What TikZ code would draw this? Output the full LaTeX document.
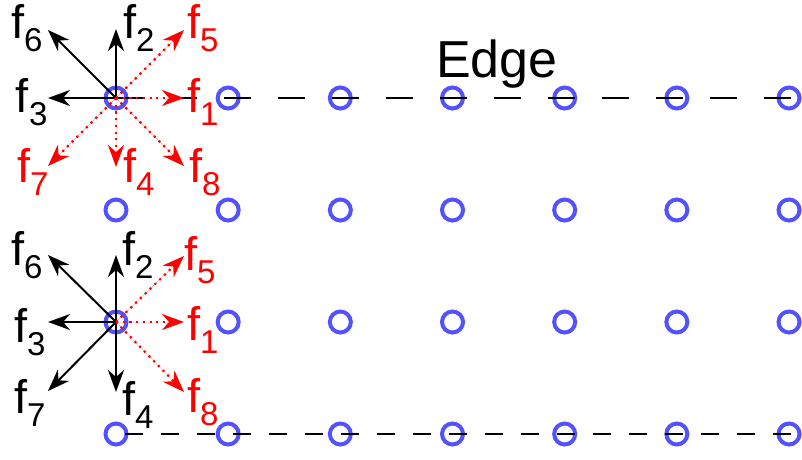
\documentclass[tikz,border=0pt]{standalone}
\usepackage{fontspec}
\setmainfont{Liberation Sans}
\usetikzlibrary{arrows.meta}
\definecolor{ptblue}{RGB}{82,82,255}
\newcommand\flab[1]{\fontsize{47}{47}\selectfont f\raisebox{-13pt}{\fontsize{33}{33}\selectfont #1}}
\tikzset{
  pt/.style={circle, draw=ptblue, line width=4pt, minimum size=21pt, inner sep=0pt},
  tipst/.style={-{Stealth[length=22pt,width=16pt,inset=7pt]}},
  fblack/.style={tipst, draw=black, line width=2pt},
  fdot/.style={tipst, draw=red, fill=red, line width=2.2pt, dash pattern=on 2.2pt off 4.5pt},
  lab/.style={anchor=base west, inner sep=0pt, outer sep=0pt},
  edgeline/.style={draw=black, line width=2.5pt},
}
\begin{document}
\begin{tikzpicture}[x=1pt,y=-1pt]
\useasboundingbox (0,0) rectangle (802,459);
% grid of points
\foreach \r/\y in {0/98,1/210,2/322,3/434}{
  \foreach \c in {0,...,6}{
    \node[pt] (c-\r-\c) at ({116+112.17*\c},\y) {};
  }
}
% edge lines
\coordinate (etop) at (802,98);
\coordinate (ebot) at (802,434);
\draw[edgeline, dash pattern=on 27pt off 27pt] (c-0-0.center) -- (etop);
\draw[edgeline, dash pattern=on 18pt off 18pt, dash phase=27pt] (c-3-0.center) -- (ebot);
\node[lab, font=\fontsize{52}{52}\selectfont] (edge) at (436,77) {Edge};
% top cluster tips
\coordinate (ta6) at (48,30);
\coordinate (ta2) at (116,29);
\coordinate (ta5) at (184,30);
\coordinate (ta3) at (48,98);
\coordinate (ta1) at (184,98);
\coordinate (ta7) at (48,166);
\coordinate (ta4) at (116,167);
\coordinate (ta8) at (184,166);
\draw[fblack] (c-0-0.center) -- (ta6);
\draw[fblack] (c-0-0.center) -- (ta2);
\draw[fblack] (c-0-0.center) -- (ta3);
\draw[fdot] (c-0-0.center) -- (ta5);
\draw[fdot] (c-0-0.center) -- (ta1);
\draw[fdot] (c-0-0.center) -- (ta7);
\draw[fdot] (c-0-0.center) -- (ta4);
\draw[fdot] (c-0-0.center) -- (ta8);
% bottom cluster tips
\coordinate (tb6) at (48,255);
\coordinate (tb2) at (116,255);
\coordinate (tb5) at (184,256);
\coordinate (tb3) at (48,322);
\coordinate (tb1) at (184,322);
\coordinate (tb7) at (48,391);
\coordinate (tb4) at (116,392);
\coordinate (tb8) at (184,392);
\draw[fblack] (c-2-0.center) -- (tb6);
\draw[fblack] (c-2-0.center) -- (tb2);
\draw[fblack] (c-2-0.center) -- (tb3);
\draw[fblack] (c-2-0.center) -- (tb7);
\draw[fblack] (c-2-0.center) -- (tb4);
\draw[fdot] (c-2-0.center) -- (tb5);
\draw[fdot] (c-2-0.center) -- (tb1);
\draw[fdot] (c-2-0.center) -- (tb8);
% top labels
\node[lab] (la6) at (11,38) {\flab{6}};
\node[lab] (la2) at (123,38) {\flab{2}};
\node[lab, text=red] (la5) at (187,38) {\flab{5}};
\node[lab] (la3) at (16,112) {\flab{3}};
\node[lab, text=red] (la1) at (187,112) {\flab{1}};
\node[lab, text=red] (la7) at (17,182) {\flab{7}};
\node[lab, text=red] (la4) at (123,182) {\flab{4}};
\node[lab, text=red] (la8) at (189,182) {\flab{8}};
% bottom labels
\node[lab] (lb6) at (11,265) {\flab{6}};
\node[lab] (lb2) at (122,265) {\flab{2}};
\node[lab, text=red] (lb5) at (184,270) {\flab{5}};
\node[lab] (lb3) at (14,342) {\flab{3}};
\node[lab, text=red] (lb1) at (187,340) {\flab{1}};
\node[lab] (lb7) at (14,413) {\flab{7}};
\node[lab] (lb4) at (122,415) {\flab{4}};
\node[lab, text=red] (lb8) at (187,412) {\flab{8}};
\end{tikzpicture}
\end{document}
